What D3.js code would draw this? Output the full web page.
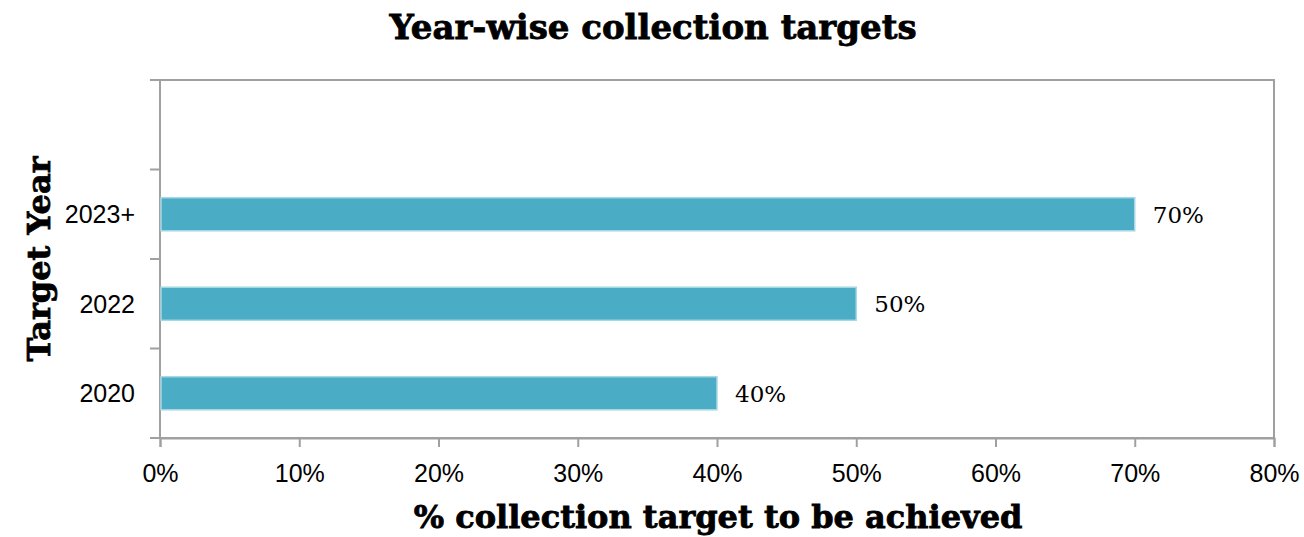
<!DOCTYPE html>
<html>
<head>
<meta charset="utf-8">
<script src="https://cdn.jsdelivr.net/npm/d3@7"></script>
<style>
  body { margin: 0; background: #fff; }
  svg { display: block; }
</style>
</head>
<body>
<div id="chart"></div>
<script>
// data
const years = ["2020", "2022", "2023+", ""]; // top band is empty in the original
const targets = [40, 50, 70, null];
const xTicks = [0, 10, 20, 30, 40, 50, 60, 70, 80];

const data = years.map((y, i) => ({ year: y, value: targets[i] }));

const width = 1304,
      height = 537,
      margin = ({ top: 80, right: 30, bottom: 99, left: 160 });

const svg = d3.select("#chart")
    .append("svg")
    .attr("width", width)
    .attr("height", height);

const x = d3.scaleLinear()
    .domain([0, 80])
    .range([margin.left, width - margin.right]);

const y = d3.scaleBand()
    .domain(years)
    .range([height - margin.bottom, margin.top])
    .paddingInner(0.63)
    .paddingOuter(0.315);

const yEdges = d3.scaleLinear()
    .domain([0, years.length])
    .range([height - margin.bottom, margin.top]);

const grey = "#a0a0a0";
const sans = "'Liberation Sans', Arial, sans-serif";
const serif = "'DejaVu Serif', serif";

// frame
svg.append("rect")
    .attr("x", x(0))
    .attr("y", margin.top)
    .attr("width", x(80) - x(0))
    .attr("height", height - margin.bottom - margin.top)
    .attr("fill", "none")
    .attr("stroke", grey)
    .attr("stroke-width", 2);

// y ticks at band edges
svg.append("g")
    .selectAll("line")
    .data(d3.range(years.length + 1))
    .join("line")
    .attr("x1", x(0) - 10)
    .attr("x2", x(0))
    .attr("y1", d => yEdges(d))
    .attr("y2", d => yEdges(d))
    .attr("stroke", grey)
    .attr("stroke-width", 2);

// x axis
const xAxis = svg.append("g")
    .attr("transform", `translate(0,${height - margin.bottom})`)
    .call(d3.axisBottom(x).tickValues(xTicks).tickFormat(d => d + "%").tickSize(9));
xAxis.select(".domain").attr("stroke", grey).attr("stroke-width", 2);
xAxis.selectAll(".tick line").attr("stroke", grey).attr("stroke-width", 2);
xAxis.selectAll(".tick text")
    .attr("fill", "#000")
    .attr("y", 44)
    .attr("dy", null)
    .style("font-family", sans)
    .style("font-size", "25px");

// y labels
svg.append("g")
    .selectAll("text")
    .data(years)
    .join("text")
    .attr("x", x(0) - 25)
    .attr("y", d => y(d) + y.bandwidth() / 2)
    .attr("dy", "0.36em")
    .attr("text-anchor", "end")
    .style("font-family", sans)
    .style("font-size", "25px")
    .text(d => d);

// bars
const bars = data.filter(d => d.value != null);

svg.append("g")
    .selectAll("rect")
    .data(bars)
    .join("rect")
    .attr("x", x(0) + 1)
    .attr("y", d => y(d.year))
    .attr("width", d => x(d.value) - x(0) - 1)
    .attr("height", y.bandwidth())
    .attr("fill", "#4bacc6")
    .attr("stroke", "#a9d8e5")
    .attr("stroke-width", 1.5);

// value labels
svg.append("g")
    .selectAll("text")
    .data(bars)
    .join("text")
    .attr("x", d => x(d.value) + 18)
    .attr("y", d => y(d.year) + y.bandwidth() / 2)
    .attr("dy", "0.36em")
    .style("font-family", serif)
    .style("font-size", "23px")
    .text(d => d.value + "%");

// title
svg.append("text")
    .attr("x", 653)
    .attr("y", 39)
    .attr("text-anchor", "middle")
    .attr("stroke", "#000")
    .attr("stroke-width", 0.8)
    .style("font-family", serif)
    .style("font-weight", "bold")
    .style("font-size", "34px")
    .text("Year-wise collection targets");

// x axis title
svg.append("text")
    .attr("x", 718)
    .attr("y", 528)
    .attr("text-anchor", "middle")
    .attr("stroke", "#000")
    .attr("stroke-width", 0.8)
    .style("font-family", serif)
    .style("font-weight", "bold")
    .style("font-size", "32px")
    .text("% collection target to be achieved");

// y axis title
svg.append("text")
    .attr("transform", `translate(50,${(margin.top + height - margin.bottom) / 2}) rotate(-90)`)
    .attr("text-anchor", "middle")
    .attr("stroke", "#000")
    .attr("stroke-width", 0.8)
    .style("font-family", serif)
    .style("font-weight", "bold")
    .style("font-size", "32px")
    .text("Target Year");
</script>
</body>
</html>
